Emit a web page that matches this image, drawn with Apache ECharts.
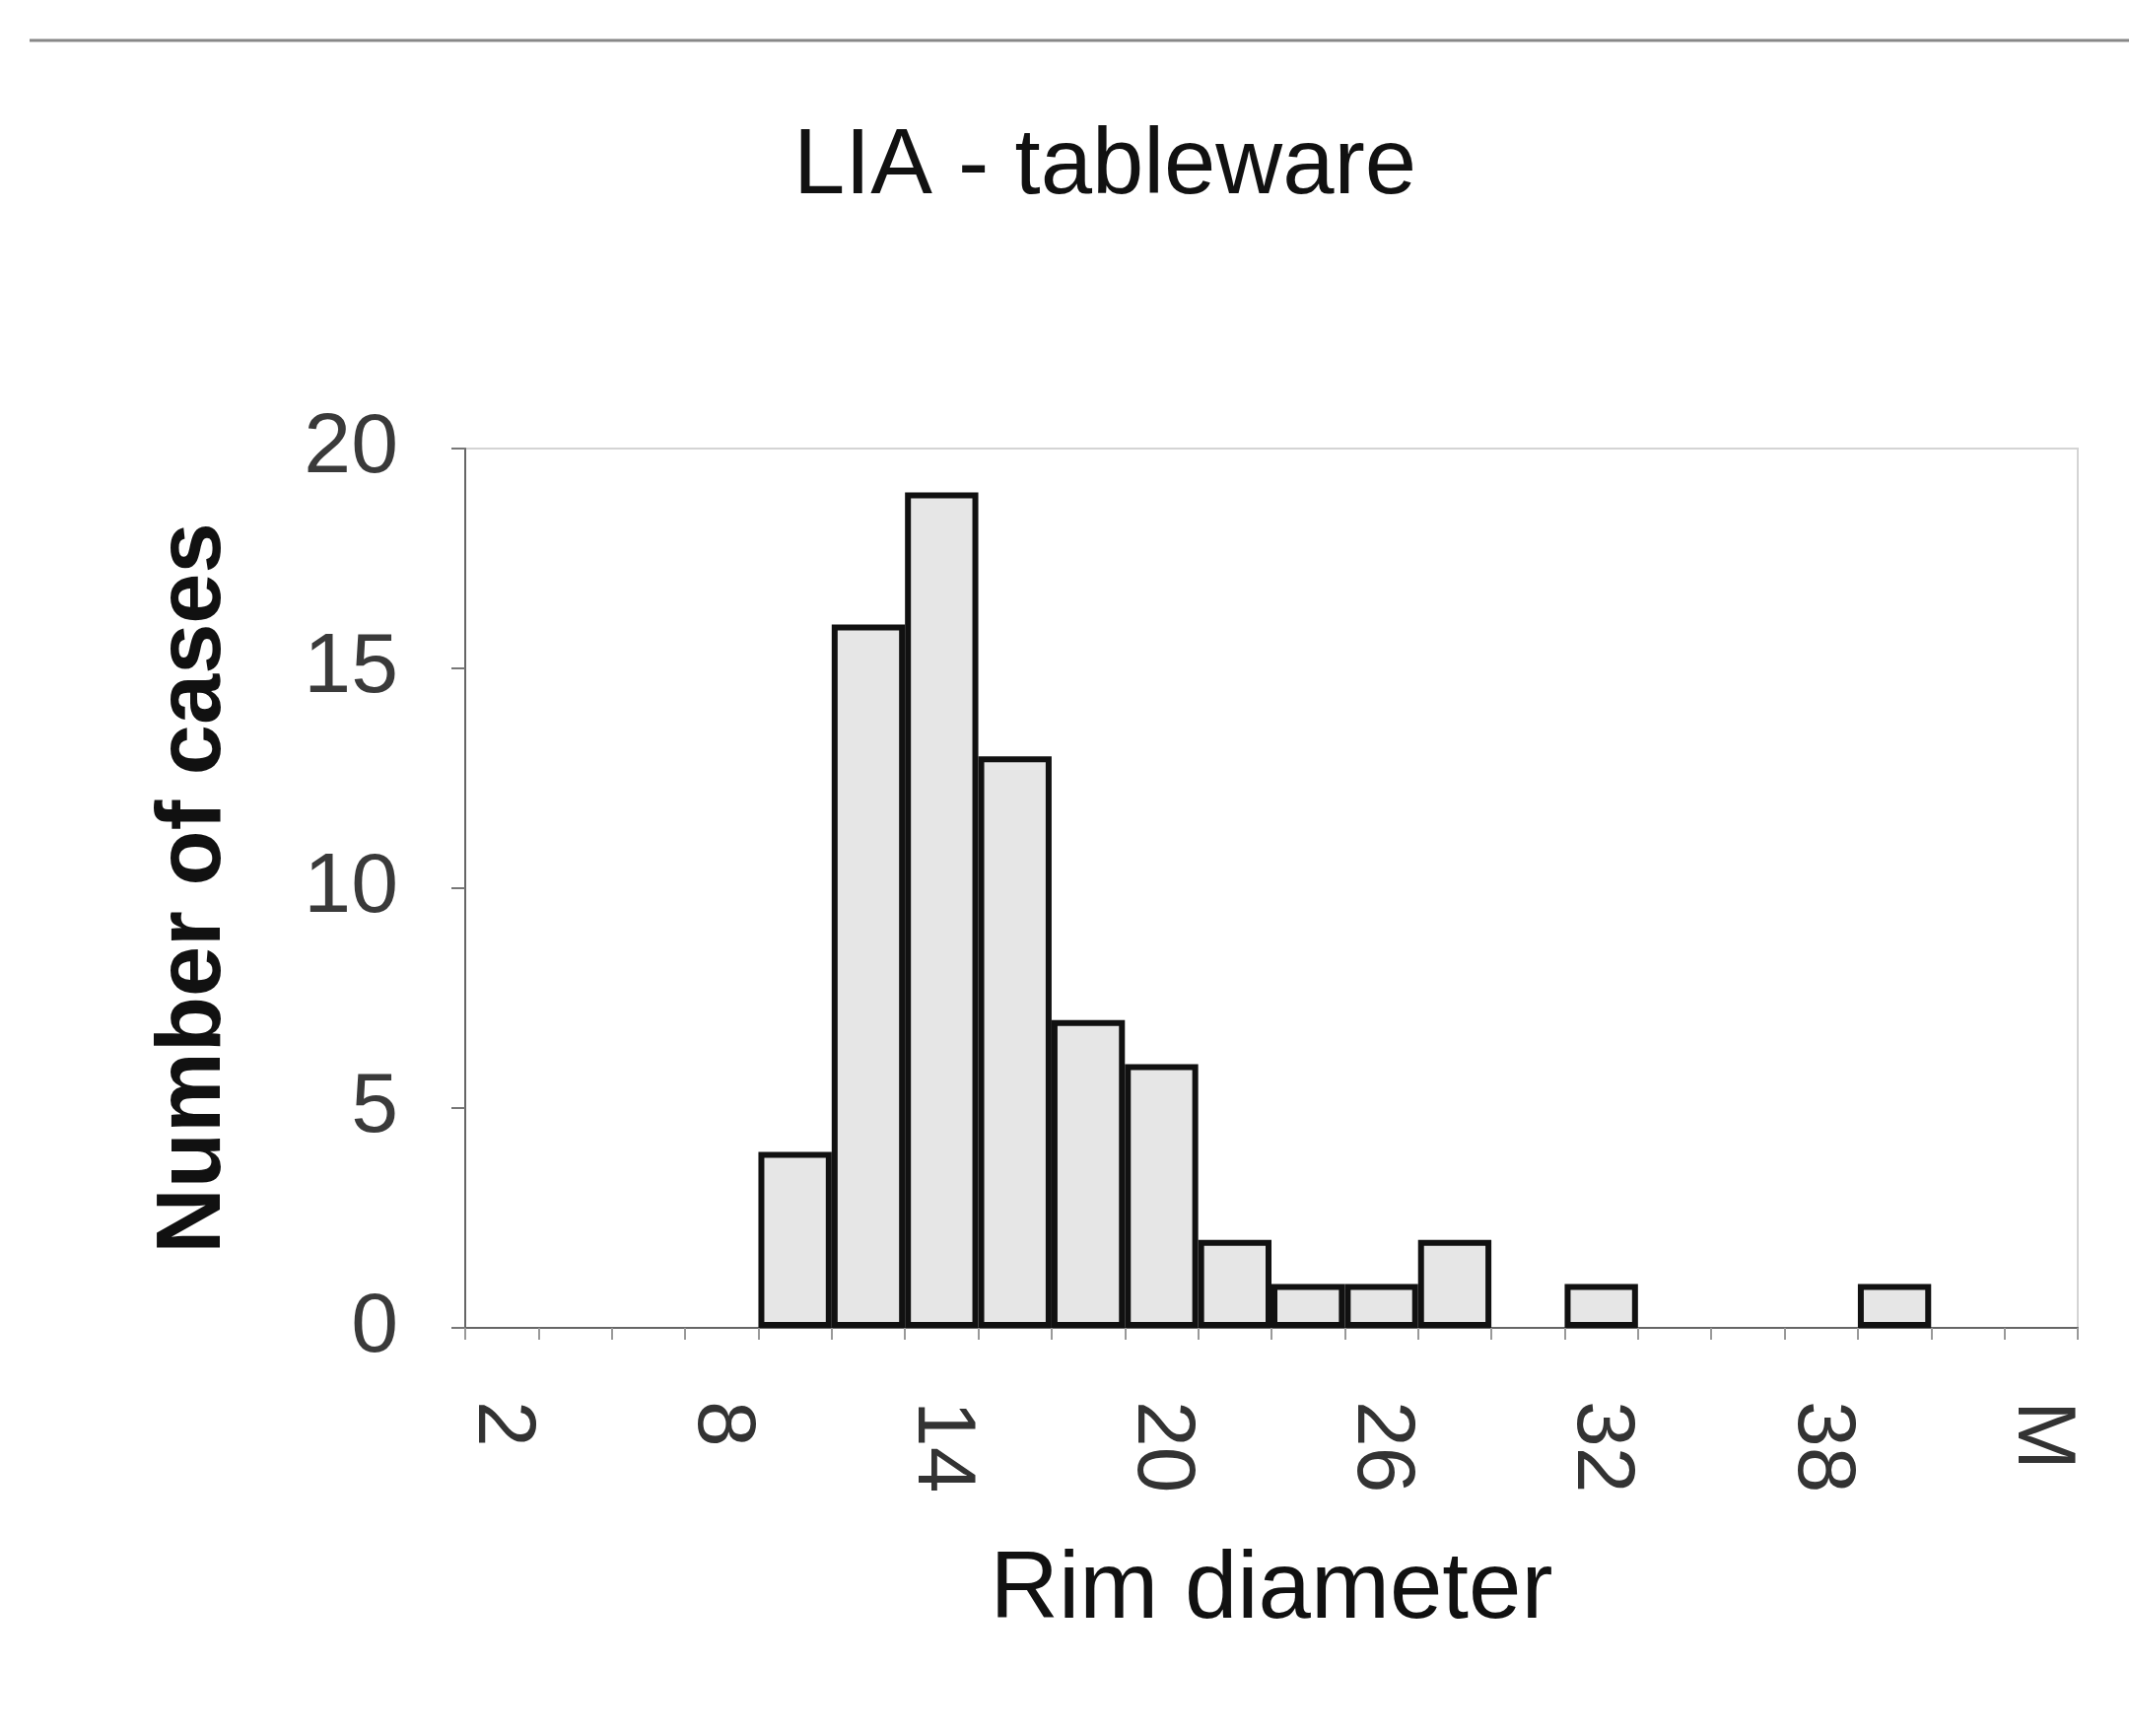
<!DOCTYPE html>
<html>
<head>
<meta charset="utf-8">
<title>LIA - tableware</title>
<script src="https://cdn.jsdelivr.net/npm/echarts@6/dist/echarts.min.js"></script>
<style>
  html, body { margin: 0; padding: 0; background: #fff; }
  #chart { width: 2160px; height: 1761px; }
</style>
</head>
<body>
<div id="chart"></div>
<script>
  // rim diameter classes (cm), step 2, plus "M" (missing)
  const categories = ['2', '4', '6', '8', '10', '12', '14', '16', '18', '20', '22',
    '24', '26', '28', '30', '32', '34', '36', '38', '40', '42', 'M']
  const counts = [0, 0, 0, 0, 4, 16, 19, 13, 7, 6, 2, 1, 1, 2, 0, 1, 0, 0, 0, 1, 0, 0]
  const yTicks = { min: 0, max: 20, interval: 5 }

  const font = '"Liberation Sans", Arial, sans-serif'
  const chart = echarts.init(document.getElementById('chart'), null, { renderer: 'canvas' })

  const option = {
    backgroundColor: '#fff',
    animation: false,
    title: {
      text: 'LIA - tableware',
      left: 1116,
      top: 118,
      textAlign: 'center',
      textStyle: { fontFamily: font, fontSize: 94, fontWeight: 'normal', color: '#111' }
    },
    graphic: [
      {
        // frame line at the top of the figure
        type: 'line',
        shape: { x1: 30, y1: 41, x2: 2160, y2: 41 },
        style: { stroke: '#888', lineWidth: 3 }
      }
    ],
    grid: {
      left: 472,
      right: 52,
      top: 455,
      bottom: 414,
      show: true,
      borderColor: '#d4d4d4',
      borderWidth: 2
    },
    xAxis: {
      type: 'category',
      data: categories,
      name: 'Rim diameter',
      nameLocation: 'middle',
      nameGap: 220,
      nameTextStyle: { fontFamily: font, fontSize: 96, color: '#111' },
      axisLine: { lineStyle: { color: '#666', width: 2 } },
      axisTick: { show: true, interval: 0, length: 12, lineStyle: { color: '#999', width: 2 } },
      axisLabel: {
        interval: 2,
        rotate: -90,
        margin: 74,
        fontFamily: font,
        fontSize: 84,
        color: '#333'
      },
      splitLine: { show: false }
    },
    yAxis: {
      type: 'value',
      min: yTicks.min,
      max: yTicks.max,
      interval: yTicks.interval,
      name: 'Number of cases',
      nameLocation: 'middle',
      nameGap: 228,
      nameTextStyle: { fontFamily: font, fontSize: 92, fontWeight: 'bold', color: '#111' },
      axisLine: { show: true, lineStyle: { color: '#666', width: 2 } },
      axisTick: { show: true, length: 14, lineStyle: { color: '#777', width: 2 } },
      axisLabel: { margin: 68, fontFamily: font, fontSize: 86, color: '#3a3a3a' },
      splitLine: { show: false }
    },
    series: [
      {
        name: 'LIA - tableware',
        type: 'bar',
        // empty classes draw nothing (no flat outline on the axis)
        data: counts.map(v => (v === 0 ? '-' : v)),
        barCategoryGap: '0%',
        itemStyle: {
          color: '#e6e6e6',
          borderColor: '#111',
          borderWidth: 6
        }
      }
    ]
  }

  option && chart.setOption(option)
</script>
</body>
</html>
